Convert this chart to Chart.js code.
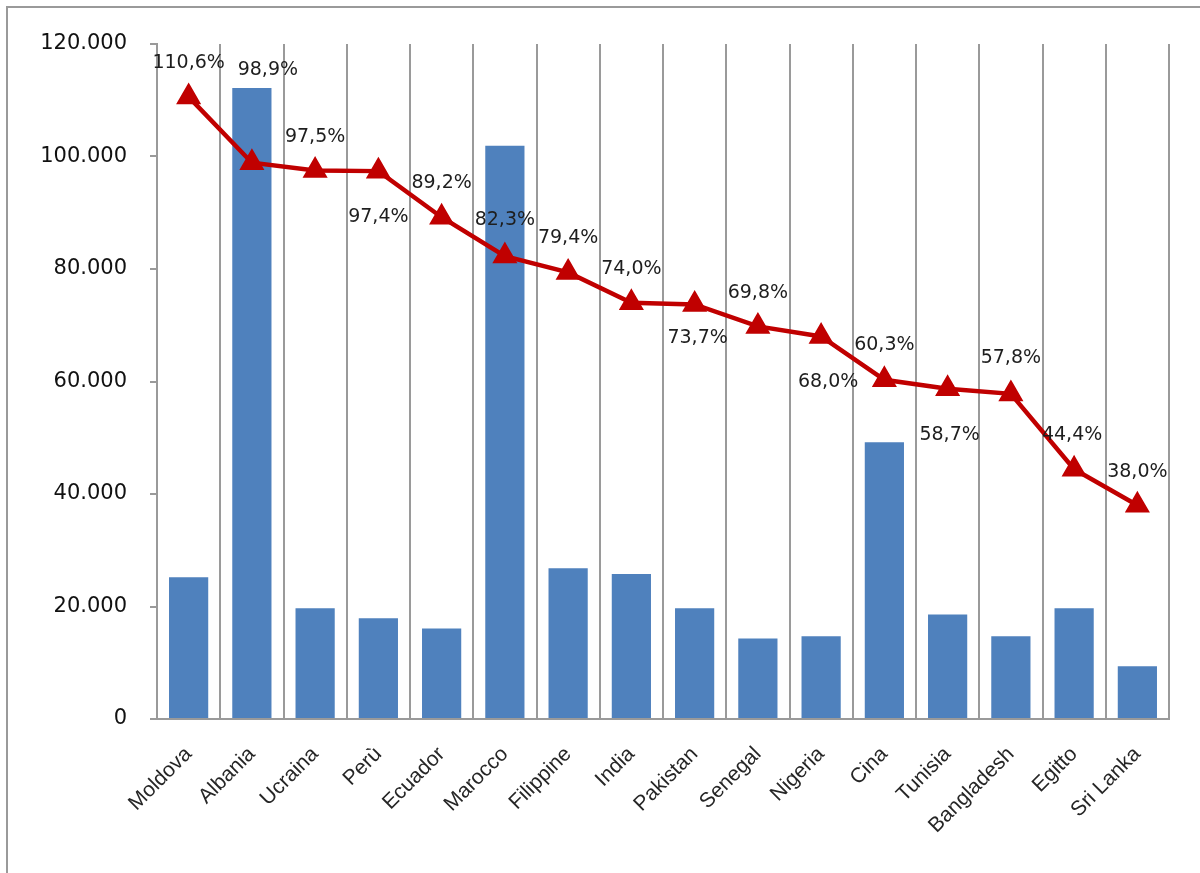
<!DOCTYPE html>
<html>
<head>
<meta charset="utf-8">
<script src="https://cdn.jsdelivr.net/npm/chart.js@4.4.0/dist/chart.umd.min.js"></script>
<style>
    html, body { margin: 0; padding: 0; background: #ffffff; }
    #wrap { position: relative; width: 1200px; height: 873px; overflow: hidden; }
    #frame { position: absolute; left: 6px; top: 6px; width: 1300px; height: 1000px;
             border-left: 2px solid #9a9a9a; border-top: 2px solid #9a9a9a; }
    canvas { position: absolute; left: 0; top: 0; }
</style>
</head>
<body>
<div id="wrap">
    <div id="frame"></div>
    <canvas id="mainChart" width="1200" height="873"></canvas>
</div>
<script>
// Data
const countries = ['Moldova', 'Albania', 'Ucraina', 'Perù', 'Ecuador', 'Marocco', 'Filippine', 'India',
    'Pakistan', 'Senegal', 'Nigeria', 'Cina', 'Tunisia', 'Bangladesh', 'Egitto', 'Sri Lanka'];
const residents = [25200, 112200, 19700, 17900, 16100, 101900, 26800, 25800,
    19700, 14300, 14700, 49200, 18600, 14700, 19700, 9400];
const shares = [110.6, 98.9, 97.5, 97.4, 89.2, 82.3, 79.4, 74.0,
    73.7, 69.8, 68.0, 60.3, 58.7, 57.8, 44.4, 38.0];
const yTicks = [0, 20000, 40000, 60000, 80000, 100000, 120000];

// where each percentage label sits relative to its marker (pixels)
const labelOffsets = [[0, -34], [16, -93], [0, -34], [0, 46], [0, -34], [0, -36], [0, -34], [0, -34],
    [3, 34], [0, -33], [7, 46], [0, -35], [2, 46], [0, -36], [-2, -34], [0, -33]];

const gridGray = '#9a9a9a';

function fmtThousands(v) {
    return String(v).replace(/\B(?=(\d{3})+(?!\d))/g, '.');
}

// percentage labels next to the line markers
const shareLabels = {
    id: 'shareLabels',
    afterDatasetsDraw(chart) {
        const meta = chart.getDatasetMeta(1);
        const ctx = chart.ctx;
        ctx.save();
        ctx.font = '19px "DejaVu Sans"';
        ctx.fillStyle = '#1e1e1e';
        ctx.textAlign = 'center';
        ctx.textBaseline = 'middle';
        meta.data.forEach((pt, i) => {
            const off = labelOffsets[i];
            const txt = shares[i].toFixed(1).replace('.', ',') + '%';
            ctx.fillText(txt, pt.x + off[0], pt.y + off[1]);
        });
        ctx.restore();
    }
};

const ctx = document.getElementById('mainChart').getContext('2d');
new Chart(ctx, {
    data: {
        labels: countries,
        datasets: [{
            type: 'bar',
            data: residents,
            backgroundColor: '#4f81bd',
            borderWidth: 0,
            categoryPercentage: 1,
            barPercentage: 0.62,
            yAxisID: 'y',
            order: 1
        }, {
            type: 'line',
            data: shares,
            borderColor: '#c00000',
            backgroundColor: '#c00000',
            borderWidth: 4.5,
            pointStyle: 'triangle',
            pointRadius: 10,
            pointBackgroundColor: '#c00000',
            pointBorderColor: '#c00000',
            tension: 0,
            yAxisID: 'y1',
            order: 0
        }]
    },
    options: {
        responsive: false,
        animation: false,
        layout: { padding: { left: 0, top: 44, right: 31, bottom: 0 } },
        plugins: {
            legend: { display: false },
            tooltip: { enabled: false }
        },
        scales: {
            x: {
                offset: true,
                grid: {
                    offset: true,
                    drawOnChartArea: true,
                    drawTicks: false,
                    color: gridGray,
                    lineWidth: 2
                },
                border: { display: true, color: gridGray, width: 2 },
                ticks: {
                    autoSkip: false,
                    minRotation: 45,
                    maxRotation: 45,
                    padding: 23,
                    color: '#262626',
                    font: { family: '"Liberation Sans", Arial', size: 21 }
                },
                afterFit(scale) { scale.height = 873 - 719; }
            },
            y: {
                min: 0,
                max: 120000,
                afterBuildTicks(scale) { scale.ticks = yTicks.map(v => ({ value: v })); },
                grid: {
                    drawOnChartArea: false,
                    drawTicks: true,
                    tickLength: 7,
                    color: gridGray,
                    lineWidth: 2
                },
                border: { display: true, color: gridGray, width: 2 },
                ticks: {
                    padding: 23,
                    color: '#111111',
                    font: { family: '"DejaVu Sans"', size: 21 },
                    callback: function(value) { return fmtThousands(value); }
                },
                afterFit(scale) { scale.width = 157; }
            },
            y1: {
                display: false,
                min: 0,
                max: 120
            }
        }
    },
    plugins: [shareLabels]
});
</script>
</body>
</html>
